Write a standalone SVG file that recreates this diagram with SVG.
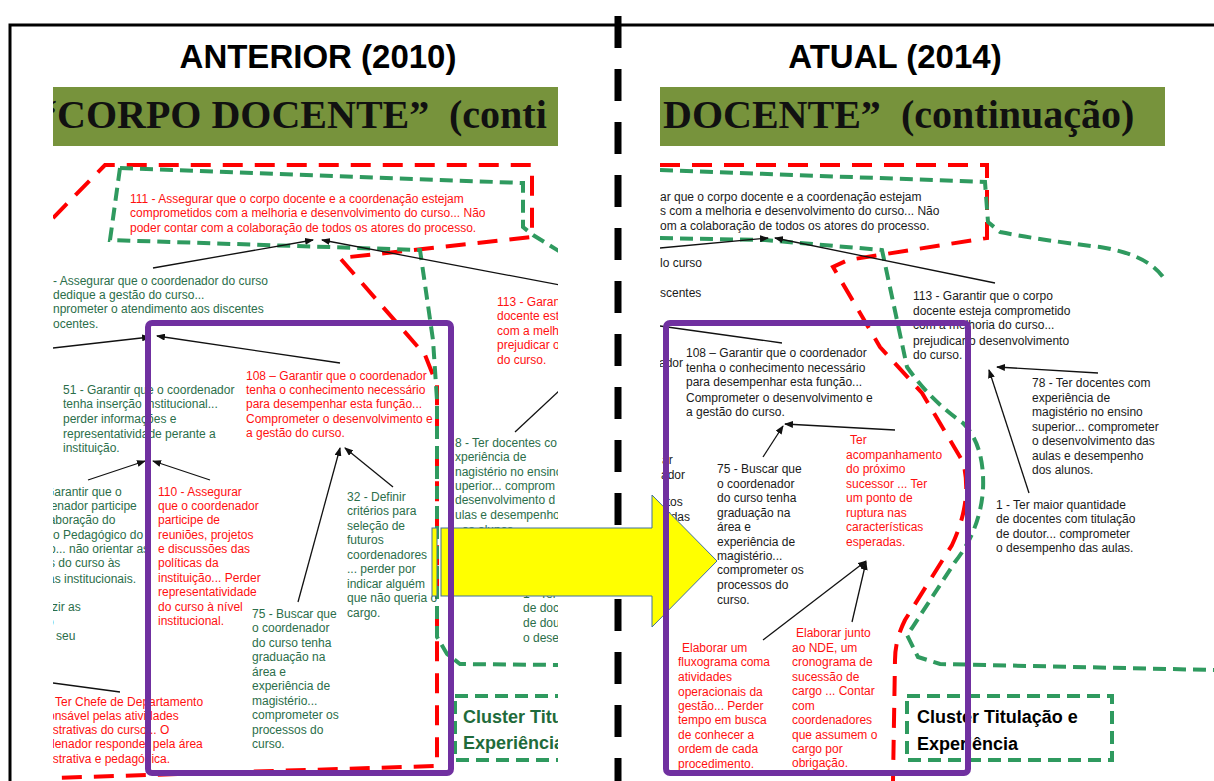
<svg xmlns="http://www.w3.org/2000/svg" width="1214" height="781" viewBox="0 0 1214 781">
<style>
.t{font-family:"Liberation Sans",Arial,sans-serif;font-size:12px}
.r{fill:#FF1010}
.g{fill:#2B6E4A}
.k{fill:#1A1A1A}
.hd{font-family:"Liberation Sans",Arial,sans-serif;font-size:33px;font-weight:bold;fill:#000}
.ttl{font-family:"Liberation Serif","Times New Roman",serif;font-size:40px;font-weight:bold;fill:#111}
.cl{font-family:"Liberation Sans",Arial,sans-serif;font-size:18px;font-weight:bold}
.gd{fill:none;stroke:#2F9A5F;stroke-width:4;stroke-dasharray:13 7}
.rd{fill:none;stroke:#FF0000;stroke-width:4;stroke-dasharray:20 12}
.ar{fill:none;stroke:#111;stroke-width:1.3;marker-end:url(#ah)}
.ln{fill:none;stroke:#111;stroke-width:1.3}
.pu{fill:none;stroke:#7030A0;stroke-width:6}
</style>
<defs>
<marker id="ah" markerWidth="9" markerHeight="7" refX="8" refY="3.5" orient="auto" markerUnits="userSpaceOnUse">
<path d="M0,0 L9,3.5 L0,7 z" fill="#111"/>
</marker>
<clipPath id="cL"><rect x="53" y="145" width="505" height="636"/></clipPath>
<clipPath id="cR"><rect x="660" y="145" width="554" height="636"/></clipPath>
<clipPath id="bL"><rect x="53" y="87" width="505" height="59"/></clipPath>
<clipPath id="bR"><rect x="660" y="87" width="505" height="59"/></clipPath>
</defs>
<rect width="1214" height="781" fill="#fff"/>
<rect x="10" y="25" width="1230" height="790" fill="none" stroke="#000" stroke-width="3"/>

<g id="headers">
<text class="hd" x="318" y="68" text-anchor="middle">ANTERIOR (2010)</text>
<text class="hd" x="895" y="68" text-anchor="middle">ATUAL (2014)</text>
</g>

<g id="title-left">
<rect x="53" y="87" width="505" height="59" fill="#77933C"/>
<g clip-path="url(#bL)">
<text class="ttl" x="37" y="128">“CORPO DOCENTE”</text>
<text class="ttl" x="449" y="128" font-size="41">(conti</text>
</g>
</g>
<g id="title-right">
<rect x="660" y="87" width="505" height="59" fill="#77933C"/>
<g clip-path="url(#bR)">
<text class="ttl" x="663" y="128">DOCENTE”</text>
<text class="ttl" x="901" y="128" font-size="41">(continuação)</text>
</g>
</g>

<g id="divider">
<line x1="618" y1="16" x2="618" y2="781" stroke="#000" stroke-width="7" stroke-dasharray="32 21"/>
</g>

<g id="left-panel" clip-path="url(#cL)">
<g id="left-regions">
<path class="rd" d="M53,218 L105,165 L532,165 L532,237 L340,258 L425,355 L437,385 L437,766 L240,772 L53,778"/>
<path class="gd" d="M120,168 L523,183 L523,227 L533,235 L562,253"/>
<path class="gd" d="M120,168 L110,240 L420,250 L433,340 L437,400 L437,637 L447,654 L460,664 L560,665"/>
<rect class="gd" x="455" y="696" width="205" height="64"/>
</g>
<g id="left-connectors">
<line class="ar" x1="153" y1="268" x2="313" y2="240"/>
<line class="ar" x1="560" y1="285" x2="322" y2="240"/>
<line class="ar" x1="53" y1="348" x2="150" y2="337"/>
<line class="ar" x1="340" y1="363" x2="157" y2="336"/>
<line class="ar" x1="88" y1="480" x2="145" y2="461"/>
<line class="ar" x1="210" y1="480" x2="153" y2="461"/>
<line class="ar" x1="393" y1="487" x2="345" y2="448"/>
<line class="ar" x1="298" y1="602" x2="340" y2="448"/>
<line class="ln" x1="560" y1="390" x2="515" y2="432"/>
<line class="ln" x1="53" y1="683" x2="120" y2="692"/>
</g>
<g id="L111" class="t r">
<text x="130" y="203">111  - Assegurar que o corpo docente e a coordenação estejam</text>
<text x="130" y="217">comprometidos com a melhoria e desenvolvimento do curso... Não</text>
<text x="130" y="232">poder contar com a colaboração de todos os atores do processo.</text>
</g>
<g id="L50" class="t g">
<text x="53" y="285">- Assegurar que o coordenador do curso</text>
<text x="53" y="299">dedique  a gestão do curso...</text>
<text x="53" y="313">nprometer o atendimento aos discentes</text>
<text x="53" y="328">ocentes.</text>
</g>
<g id="L113" class="t r">
<text x="497" y="306">113 -  Garan</text>
<text x="497" y="320">docente est</text>
<text x="497" y="335">com a melh</text>
<text x="497" y="349">prejudicar o</text>
<text x="497" y="364">do curso.</text>
</g>
<g id="L78" class="t g">
<text x="455" y="447">8 - Ter docentes co</text>
<text x="455" y="461">xperiência de</text>
<text x="455" y="476">nagistério no ensino</text>
<text x="455" y="490">uperior... comprom</text>
<text x="455" y="504">desenvolvimento d</text>
<text x="455" y="519">ulas e desempenho</text>
<text x="462" y="534">os alunos.</text>
</g>
<g id="L1" class="t g">
<text x="523" y="598">1 - Ter</text>
<text x="523" y="612">de doc</text>
<text x="523" y="627">de dou</text>
<text x="523" y="642">o dese</text>
</g>
<g id="L51" class="t g">
<text x="63" y="394">51 - Garantir que o coordenador</text>
<text x="63" y="408">tenha inserção institucional...</text>
<text x="63" y="423">perder informações e</text>
<text x="63" y="438">representatividade perante a</text>
<text x="63" y="452">instituição.</text>
</g>
<g id="Lpart" class="t g">
<text x="45" y="496">Garantir  que o</text>
<text x="44" y="510">denador participe</text>
<text x="46" y="524">laboração do</text>
<text x="53" y="539">o Pedagógico do</text>
<text x="49" y="553">o... não orientar as</text>
<text x="49" y="567">s do curso às</text>
<text x="48" y="583">as institucionais.</text>
<text x="52" y="611">zir  as</text>
<text x="47" y="626">o</text>
<text x="46" y="640">o seu</text>
</g>
<g id="L110" class="t r">
<text x="158" y="496">110  - Assegurar</text>
<text x="158" y="510">que o coordenador</text>
<text x="158" y="524">participe de</text>
<text x="158" y="539">reuniões, projetos</text>
<text x="158" y="553">e discussões  das</text>
<text x="158" y="567">políticas da</text>
<text x="158" y="582">instituição... Perder</text>
<text x="158" y="596">representatividade</text>
<text x="158" y="611">do curso à nível</text>
<text x="158" y="625">institucional.</text>
</g>
<g id="L108" class="t r">
<text x="246" y="380">108 – Garantir que o coordenador</text>
<text x="246" y="394">tenha o conhecimento necessário</text>
<text x="246" y="408">para desempenhar esta função...</text>
<text x="246" y="423">Comprometer o desenvolvimento e</text>
<text x="246" y="437">a gestão do curso.</text>
</g>
<g id="L32" class="t g">
<text x="347" y="501">32 - Definir</text>
<text x="347" y="515">critérios para</text>
<text x="347" y="530">seleção de</text>
<text x="347" y="544">futuros</text>
<text x="347" y="559">coordenadores</text>
<text x="347" y="573">... perder por</text>
<text x="347" y="588">indicar alguém</text>
<text x="347" y="602">que não queria o</text>
<text x="347" y="617">cargo.</text>
</g>
<g id="L75" class="t g">
<text x="252" y="618">75 - Buscar que</text>
<text x="252" y="632">o coordenador</text>
<text x="252" y="647">do curso tenha</text>
<text x="252" y="661">graduação na</text>
<text x="252" y="676">área e</text>
<text x="252" y="690">experiência de</text>
<text x="252" y="705">magistério...</text>
<text x="252" y="719">comprometer os</text>
<text x="252" y="734">processos do</text>
<text x="252" y="748">curso.</text>
</g>
<g id="Lchefe" class="t r">
<text x="55" y="706">Ter Chefe de Departamento</text>
<text x="48" y="720">onsável pelas atividades</text>
<text x="50" y="734">istrativas do curso... O</text>
<text x="48" y="748">denador responder pela área</text>
<text x="50" y="763">istrativa e pedagógica.</text>
</g>
<g id="Lcluster">
<text class="cl" x="463" y="723" fill="#1F6B3B">Cluster Titulação e</text>
<text class="cl" x="463" y="749" fill="#1F6B3B">Experiência</text>
</g>
</g>

<g id="right-panel" clip-path="url(#cR)">
<g id="right-regions">
<path class="rd" d="M660,165 L987,165 L987,238 L848,260 L833,267 L880,347 L922,393 L963,462 Q973,500 952,545 L905,620 Q895,640 895,660 L893,781"/>
<path class="gd" d="M660,170 L985,182 L988,222 L1000,232 Q1040,240 1100,247 Q1150,255 1165,280"/>
<path class="gd" d="M660,238 L765,240 L882,250 L907,367 Q930,400 963,423 Q985,445 983,490 Q980,530 955,562 L912,628 L907,635 L918,657 L940,664 L1214,670"/>
<rect class="gd" x="907" y="696" width="205" height="64"/>
</g>
<g id="right-connectors">
<line class="ar" x1="660" y1="248" x2="768" y2="238"/>
<line class="ar" x1="995" y1="283" x2="775" y2="238"/>
<line class="ln" x1="660" y1="326" x2="782" y2="343"/>
<line class="ar" x1="895" y1="430" x2="785" y2="424"/>
<line class="ar" x1="763" y1="457" x2="783" y2="426"/>
<line class="ar" x1="763" y1="640" x2="866" y2="561"/>
<line class="ar" x1="852" y1="622" x2="866" y2="562"/>
<line class="ar" x1="1098" y1="373" x2="997" y2="367"/>
<line class="ar" x1="1029" y1="493" x2="989" y2="370"/>
</g>
<g id="R111" class="t k">
<text x="660" y="201">ar que o corpo docente e a coordenação estejam</text>
<text x="660" y="215">s com a melhoria e desenvolvimento do curso... Não</text>
<text x="660" y="230">om a colaboração de todos os atores do processo.</text>
</g>
<g id="Rpart" class="t k">
<text x="660" y="267">lo curso</text>
<text x="660" y="297">scentes</text>
<text x="659" y="367">ador</text>
<text x="662" y="464">ar</text>
<text x="661" y="479">ador</text>
<text x="664" y="506">itos</text>
<text x="668" y="521">idas</text>
</g>
<g id="R108" class="t k">
<text x="686" y="357">108 – Garantir que o coordenador</text>
<text x="686" y="372">tenha o conhecimento necessário</text>
<text x="686" y="386">para desempenhar esta função...</text>
<text x="686" y="402">Comprometer o desenvolvimento e</text>
<text x="686" y="416">a gestão do curso.</text>
</g>
<g id="R75" class="t k">
<text x="717" y="473">75 - Buscar que</text>
<text x="717" y="488">o coordenador</text>
<text x="717" y="502">do curso tenha</text>
<text x="717" y="517">graduação na</text>
<text x="717" y="531">área e</text>
<text x="717" y="546">experiência de</text>
<text x="717" y="560">magistério...</text>
<text x="717" y="574">comprometer os</text>
<text x="717" y="589">processos do</text>
<text x="717" y="604">curso.</text>
</g>
<g id="RTer" class="t r">
<text x="850" y="444">Ter</text>
<text x="846" y="459">acompanhamento</text>
<text x="846" y="473">do próximo</text>
<text x="846" y="488">sucessor ... Ter</text>
<text x="846" y="502">um ponto de</text>
<text x="846" y="517">ruptura nas</text>
<text x="846" y="531">características</text>
<text x="846" y="546">esperadas.</text>
</g>
<g id="R113" class="t k">
<text x="913" y="300">113 -  Garantir que o corpo</text>
<text x="913" y="315">docente esteja comprometido</text>
<text x="913" y="329">com a melhoria do curso...</text>
<text x="913" y="345">prejudicar o desenvolvimento</text>
<text x="913" y="359">do curso.</text>
</g>
<g id="R78" class="t k">
<text x="1032" y="387">78 - Ter docentes com</text>
<text x="1032" y="402">experiência de</text>
<text x="1032" y="416">magistério no ensino</text>
<text x="1032" y="431">superior... comprometer</text>
<text x="1032" y="445">o desenvolvimento das</text>
<text x="1032" y="460">aulas e desempenho</text>
<text x="1032" y="474">dos alunos.</text>
</g>
<g id="R1" class="t k">
<text x="996" y="509">1 - Ter maior quantidade</text>
<text x="996" y="523">de docentes com titulação</text>
<text x="996" y="538">de doutor... comprometer</text>
<text x="996" y="552">o desempenho das aulas.</text>
</g>
<g id="RElab1" class="t r">
<text x="682" y="652">Elaborar um</text>
<text x="678" y="666">fluxograma coma</text>
<text x="678" y="681">atividades</text>
<text x="678" y="696">operacionais da</text>
<text x="678" y="710">gestão... Perder</text>
<text x="678" y="724">tempo em busca</text>
<text x="678" y="739">de conhecer a</text>
<text x="678" y="753">ordem de cada</text>
<text x="678" y="768">procedimento.</text>
</g>
<g id="RElab2" class="t r">
<text x="796" y="637">Elaborar junto</text>
<text x="792" y="652">ao NDE, um</text>
<text x="792" y="666">cronograma de</text>
<text x="792" y="681">sucessão de</text>
<text x="792" y="695">cargo ... Contar</text>
<text x="792" y="710">com</text>
<text x="792" y="724">coordenadores</text>
<text x="792" y="739">que assumem o</text>
<text x="792" y="753">cargo por</text>
<text x="792" y="767">obrigação.</text>
</g>
<g id="Rcluster">
<text class="cl" x="917" y="723" fill="#000">Cluster Titulação e</text>
<text class="cl" x="917" y="750" fill="#000">Experiência</text>
</g>
</g>

<g id="big-arrow" fill="#FFFF00" stroke="#41719C" stroke-width="1">
<rect x="432" y="528" width="5" height="68"/>
<rect x="441" y="528" width="9" height="68"/>
<path d="M453,528 L652,528 L652,495 L717,561 L652,627 L652,596 L453,596 Z"/>
</g>

<g id="purple-boxes">
<rect class="pu" x="148" y="323" width="303" height="450" rx="4"/>
<rect class="pu" x="666" y="323" width="302" height="450" rx="4"/>
</g>
</svg>
